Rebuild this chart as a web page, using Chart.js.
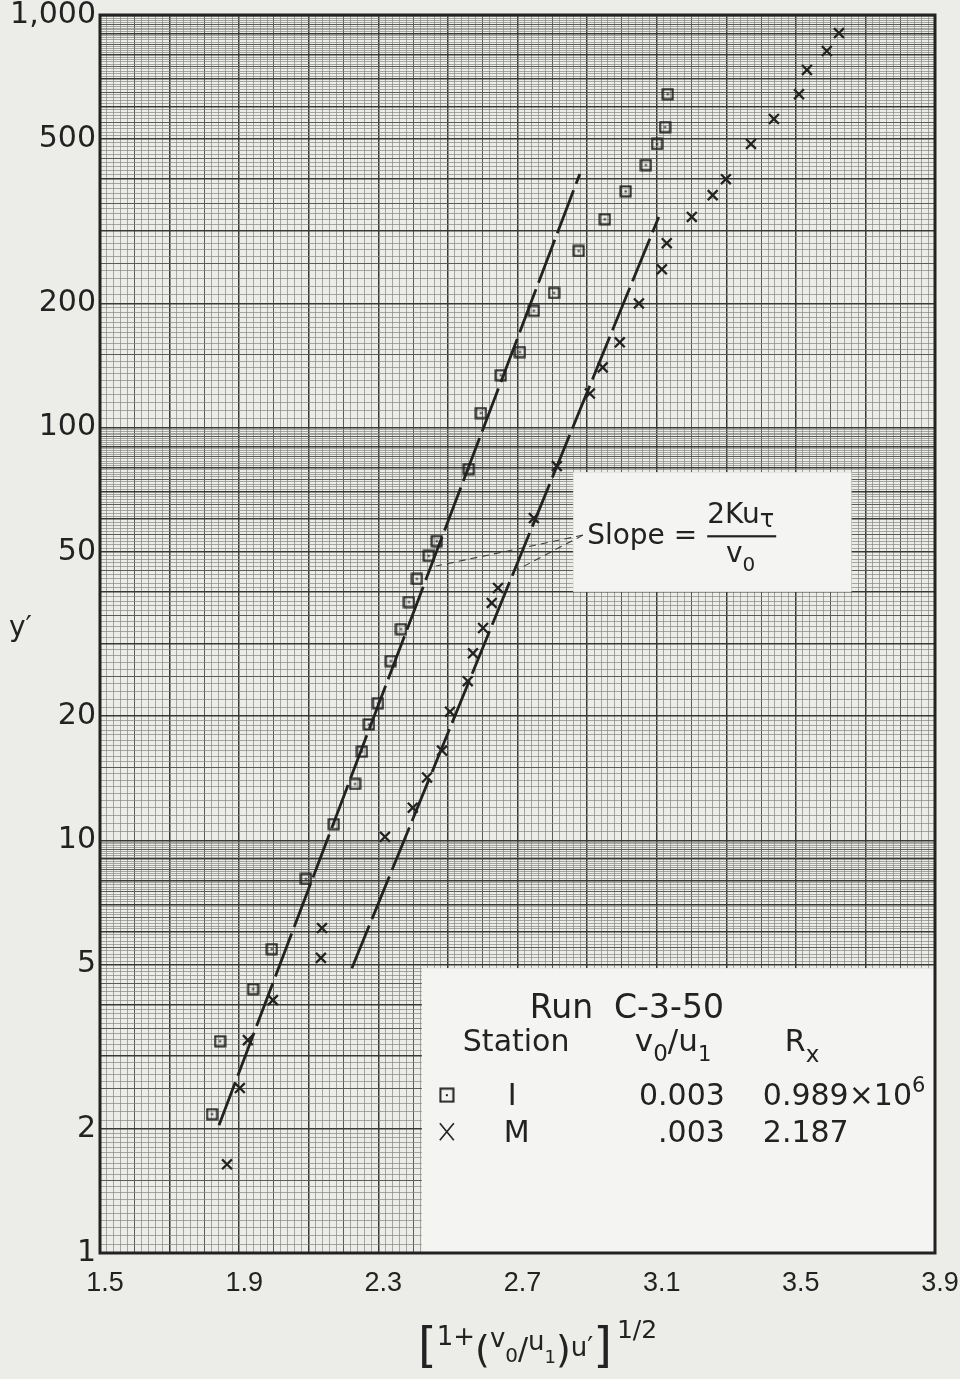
<!DOCTYPE html>
<html>
<head>
<meta charset="utf-8">
<script src="https://cdn.jsdelivr.net/npm/chart.js@4.4.0/dist/chart.umd.min.js"></script>
<style>
  html, body { margin: 0; background: #ecece9; }
  #wrap { width: 960px; height: 1379px; position: relative; }
</style>
</head>
<body>
<div id="wrap"><canvas id="chart"></canvas></div>
<script>
// Station I (squares): x = [1+(v0/u1)u']^1/2, y = y'
const stationIx = [1.822, 1.845, 1.940, 1.994, 2.092, 2.172, 2.233, 2.253, 2.273, 2.299,
  2.336, 2.365, 2.388, 2.411, 2.445, 2.468, 2.560, 2.595, 2.652, 2.707,
  2.747, 2.805, 2.876, 2.951, 3.011, 3.069, 3.101, 3.124, 3.132];
const stationIy = [2.17, 3.26, 4.36, 5.45, 8.06, 10.95, 13.7, 16.4, 19.1, 21.5,
  27.2, 32.5, 37.8, 43.0, 48.9, 53.1, 79.4, 108.5, 134, 152.5,
  192, 212, 268, 320, 374, 433, 487, 535, 643];

// Station M (crosses)
const stationMx = [1.865, 1.902, 1.925, 1.997, 2.135, 2.138, 2.319, 2.399, 2.440, 2.483,
  2.506, 2.557, 2.572, 2.601, 2.626, 2.644, 2.747, 2.813, 2.908, 2.945,
  2.994, 3.049, 3.115, 3.129, 3.201, 3.261, 3.299, 3.371, 3.437, 3.509,
  3.532, 3.589, 3.624];
const stationMy = [1.64, 2.51, 3.28, 4.10, 5.19, 6.13, 10.2, 12.0, 14.2, 16.5,
  20.5, 24.3, 28.4, 32.7, 37.6, 40.9, 60.4, 80.7, 121, 140,
  161, 200, 242, 280, 324, 366, 400, 487, 560, 643,
  736, 818, 904];

// straight-line fits through the lower part of each station
const fitIx = [1.842, 2.879];
const fitIy = [2.04, 412];
const fitMx = [2.224, 3.106];
const fitMy = [4.90, 324];

const xTickLabels = [1.5, 1.9, 2.3, 2.7, 3.1, 3.5, 3.9];
const yTickLabels = [1, 2, 5, 10, 20, 50, 100, 200, 500, 1000];

// white panels, pointer lines (data units)
const slopePanel = { x0: 2.86, x1: 3.66, y0: 40, y1: 78 };
const keyPanel = { x0: 2.425, x1: 3.9, y0: 1, y1: 4.9 };
const pointerFrom = { x: 2.888, y: 54.9 };
const pointerTo = [{ x: 2.466, y: 46.2 }, { x: 2.698, y: 45.2 }];

const ink = '#222222';
const panelFill = '#f4f4f2';
const near = (a, b) => Math.abs(a - b) < 1e-6;

// graph-paper rulings
const xGrid = [];
for (let i = 0; i <= 120; i++) xGrid.push(+(1.5 + i * 0.02).toFixed(2));
const yGrid = [];
for (const d of [1, 10, 100]) {
  for (let k = 0; k < 20; k++) yGrid.push(+(d * (1 + k * 0.05)).toFixed(3));
  for (let k = 0; k < 30; k++) yGrid.push(+(d * (2 + k * 0.1)).toFixed(3));
  for (let k = 0; k < 50; k++) yGrid.push(+(d * (5 + k * 0.1)).toFixed(3));
}
yGrid.push(1000);

const ruling = {
  bold: { color: '#383836', width: 1.5 },
  medium: { color: '#5a5a57', width: 1 },
  fine: { color: '#858581', width: 0.7 }
};
function xRule(v) {
  const i = Math.round((v - 1.5) / 0.02);
  if (i % 10 === 0) return ruling.bold;
  if (i % 5 === 0) return ruling.medium;
  return ruling.fine;
}
function yRule(v) {
  const e = Math.floor(Math.log10(v) + 1e-9);
  const m = v / Math.pow(10, e);
  if (near(m, Math.round(m))) return ruling.bold;
  if (near(m * 2, Math.round(m * 2))) return ruling.medium;
  return ruling.fine;
}

function squareMarker(size) {
  const c = document.createElement('canvas');
  c.width = size; c.height = size;
  const g = c.getContext('2d');
  g.strokeStyle = ink; g.lineWidth = 2;
  g.strokeRect(1.5, 1.5, size - 3, size - 3);
  g.fillStyle = ink;
  g.fillRect(size / 2 - 1, size / 2 - 1, 2, 2);
  return c;
}

const pts = (xs, ys) => xs.map((x, i) => ({ x, y: ys[i] }));

// text pieces with their own size and baseline shift
function drawRuns(ctx, x, y, runs) {
  for (const [t, size, dy] of runs) {
    ctx.font = size + 'px "DejaVu Sans"';
    ctx.fillText(t, x, y + dy);
    x += ctx.measureText(t).width;
  }
  return x;
}
function runsWidth(ctx, runs) {
  let w = 0;
  for (const [t, size] of runs) { ctx.font = size + 'px "DejaVu Sans"'; w += ctx.measureText(t).width; }
  return w;
}

const paper = {
  id: 'paper',
  beforeDatasetsDraw(chart) {
    const { ctx, chartArea: a, scales: { x, y } } = chart;
    ctx.save();
    ctx.fillStyle = panelFill;
    for (const b of [slopePanel, keyPanel]) {
      const l = x.getPixelForValue(b.x0), r = x.getPixelForValue(b.x1);
      const t = y.getPixelForValue(b.y1), btm = y.getPixelForValue(b.y0);
      ctx.fillRect(l, t, r - l, btm - t);
    }
    ctx.strokeStyle = ink; ctx.lineWidth = 3;
    ctx.strokeRect(a.left, a.top, a.right - a.left, a.bottom - a.top);

    // pointers from the slope note to both fits
    ctx.lineWidth = 1.1; ctx.strokeStyle = '#3c3c3c'; ctx.setLineDash([7, 5]);
    const fx = x.getPixelForValue(pointerFrom.x), fy = y.getPixelForValue(pointerFrom.y);
    for (const p of pointerTo) {
      ctx.beginPath();
      ctx.moveTo(fx, fy);
      ctx.lineTo(x.getPixelForValue(p.x), y.getPixelForValue(p.y));
      ctx.stroke();
    }
    ctx.restore();
  },
  afterDraw(chart) {
    const { ctx, chartArea: a, scales: { x, y } } = chart;
    ctx.save();
    ctx.fillStyle = ink; ctx.strokeStyle = ink;
    ctx.textBaseline = 'alphabetic'; ctx.textAlign = 'left';

    // slope note
    const sl = x.getPixelForValue(slopePanel.x0), st = y.getPixelForValue(slopePanel.y1);
    ctx.font = '28px "DejaVu Sans"';
    ctx.fillText('Slope =', sl + 14, st + 72);
    const fx = sl + 14 + ctx.measureText('Slope =').width + 10;
    const numEnd = drawRuns(ctx, fx, st + 51, [['2Ku', 28, 0], ['τ', 24, 4]]);
    ctx.fillRect(fx, st + 63, numEnd - fx + 2, 2.2);
    const den = [['v', 28, 0], ['0', 20, 9]];
    drawRuns(ctx, (fx + numEnd) / 2 - runsWidth(ctx, den) / 2, st + 90, den);

    // key
    const kl = x.getPixelForValue(keyPanel.x0), kt = y.getPixelForValue(keyPanel.y1);
    ctx.font = '33px "DejaVu Sans"';
    ctx.fillText('Run  C-3-50', kl + 108, kt + 50);
    ctx.font = '30px "DejaVu Sans"';
    ctx.fillText('Station', kl + 41, kt + 83);
    drawRuns(ctx, kl + 213, kt + 83, [['v', 31, 0], ['0', 23, 10], ['/', 31, 0], ['u', 31, 0], ['1', 21, 10]]);
    drawRuns(ctx, kl + 363, kt + 83, [['R', 30, 0], ['x', 23, 11]]);
    const sq = squareMarker(16);
    ctx.drawImage(sq, kl + 17, kt + 119);
    ctx.font = '30px "DejaVu Sans"';
    ctx.fillText('I', kl + 86, kt + 137);
    ctx.fillText('M', kl + 82, kt + 174);
    ctx.textAlign = 'right';
    ctx.fillText('0.003', kl + 303, kt + 137);
    ctx.fillText('.003', kl + 303, kt + 174);
    ctx.textAlign = 'left';
    drawRuns(ctx, kl + 341, kt + 137, [['0.989×10', 30, 0], ['6', 21, -13]]);
    ctx.font = '30px "DejaVu Sans"';
    ctx.fillText('2.187', kl + 341, kt + 174);
    ctx.lineWidth = 1.6;
    ctx.beginPath();
    ctx.moveTo(kl + 18, kt + 155); ctx.lineTo(kl + 32, kt + 172);
    ctx.moveTo(kl + 32, kt + 155); ctx.lineTo(kl + 18, kt + 172);
    ctx.stroke();

    // axis titles
    ctx.font = '28px "DejaVu Sans"';
    ctx.fillText('y′', 9, (a.top + a.bottom) / 2 + 2);
    const title = [['[', 48, 17], ['1+', 26, 0], ['(', 38, 17], ['v', 26, 2], ['0', 20, 17],
      ['/', 30, 14], ['u', 26, 5], ['1', 18, 18], [')', 38, 17], ['u′', 26, 11], [']', 48, 17], ['\u20091/2', 25, -7]];
    drawRuns(ctx, 418, 1345, title);
    ctx.restore();
  }
};

new Chart(document.getElementById('chart'), {
  type: 'scatter',
  data: {
    datasets: [
      { label: 'I', data: pts(stationIx, stationIy), pointStyle: squareMarker(13), pointRadius: 6, borderColor: ink },
      { label: 'M', data: pts(stationMx, stationMy), pointStyle: 'crossRot', pointRadius: 7, borderWidth: 2.3, borderColor: ink },
      { label: 'fit I', data: pts(fitIx, fitIy), showLine: true, pointRadius: 0, borderColor: ink, borderWidth: 2.8, borderDash: [46, 7] },
      { label: 'fit M', data: pts(fitMx, fitMy), showLine: true, pointRadius: 0, borderColor: ink, borderWidth: 2.8, borderDash: [46, 7] }
    ]
  },
  options: {
    responsive: true,
    maintainAspectRatio: false,
    animation: false,
    layout: { padding: { top: 15, right: 25, left: 0, bottom: 0 } },
    plugins: { legend: { display: false }, tooltip: { enabled: false } },
    scales: {
      x: {
        type: 'linear', min: 1.5, max: 3.9,
        afterBuildTicks: s => { s.ticks = xGrid.map(v => ({ value: v })); },
        afterFit: s => { s.height = 126; s.paddingLeft = 0; s.paddingRight = 0; },
        border: { display: false },
        grid: {
          drawTicks: false,
          color: c => c.tick ? xRule(c.tick.value).color : ruling.fine.color,
          lineWidth: c => c.tick ? xRule(c.tick.value).width : ruling.fine.width
        },
        ticks: {
          autoSkip: false, maxRotation: 0, minRotation: 0, padding: 14, labelOffset: 5,
          color: ink, font: { family: '"Liberation Sans"', size: 27 },
          callback: v => xTickLabels.some(t => near(t, v)) ? v.toFixed(1) : ''
        }
      },
      y: {
        type: 'logarithmic', min: 1, max: 1000,
        afterBuildTicks: s => { s.ticks = yGrid.map(v => ({ value: v })); },
        afterFit: s => { s.width = 100; s.paddingTop = 0; s.paddingBottom = 0; },
        border: { display: false },
        grid: {
          drawTicks: false,
          color: c => c.tick ? yRule(c.tick.value).color : ruling.fine.color,
          lineWidth: c => c.tick ? yRule(c.tick.value).width : ruling.fine.width
        },
        ticks: {
          autoSkip: false, padding: 4,
          color: ink, font: { family: '"DejaVu Sans"', size: 30 },
          callback: v => yTickLabels.some(t => near(t, v)) ? (v === 1000 ? '1,000' : String(v)) : ''
        }
      }
    }
  },
  plugins: [paper]
});
</script>
</body>
</html>
